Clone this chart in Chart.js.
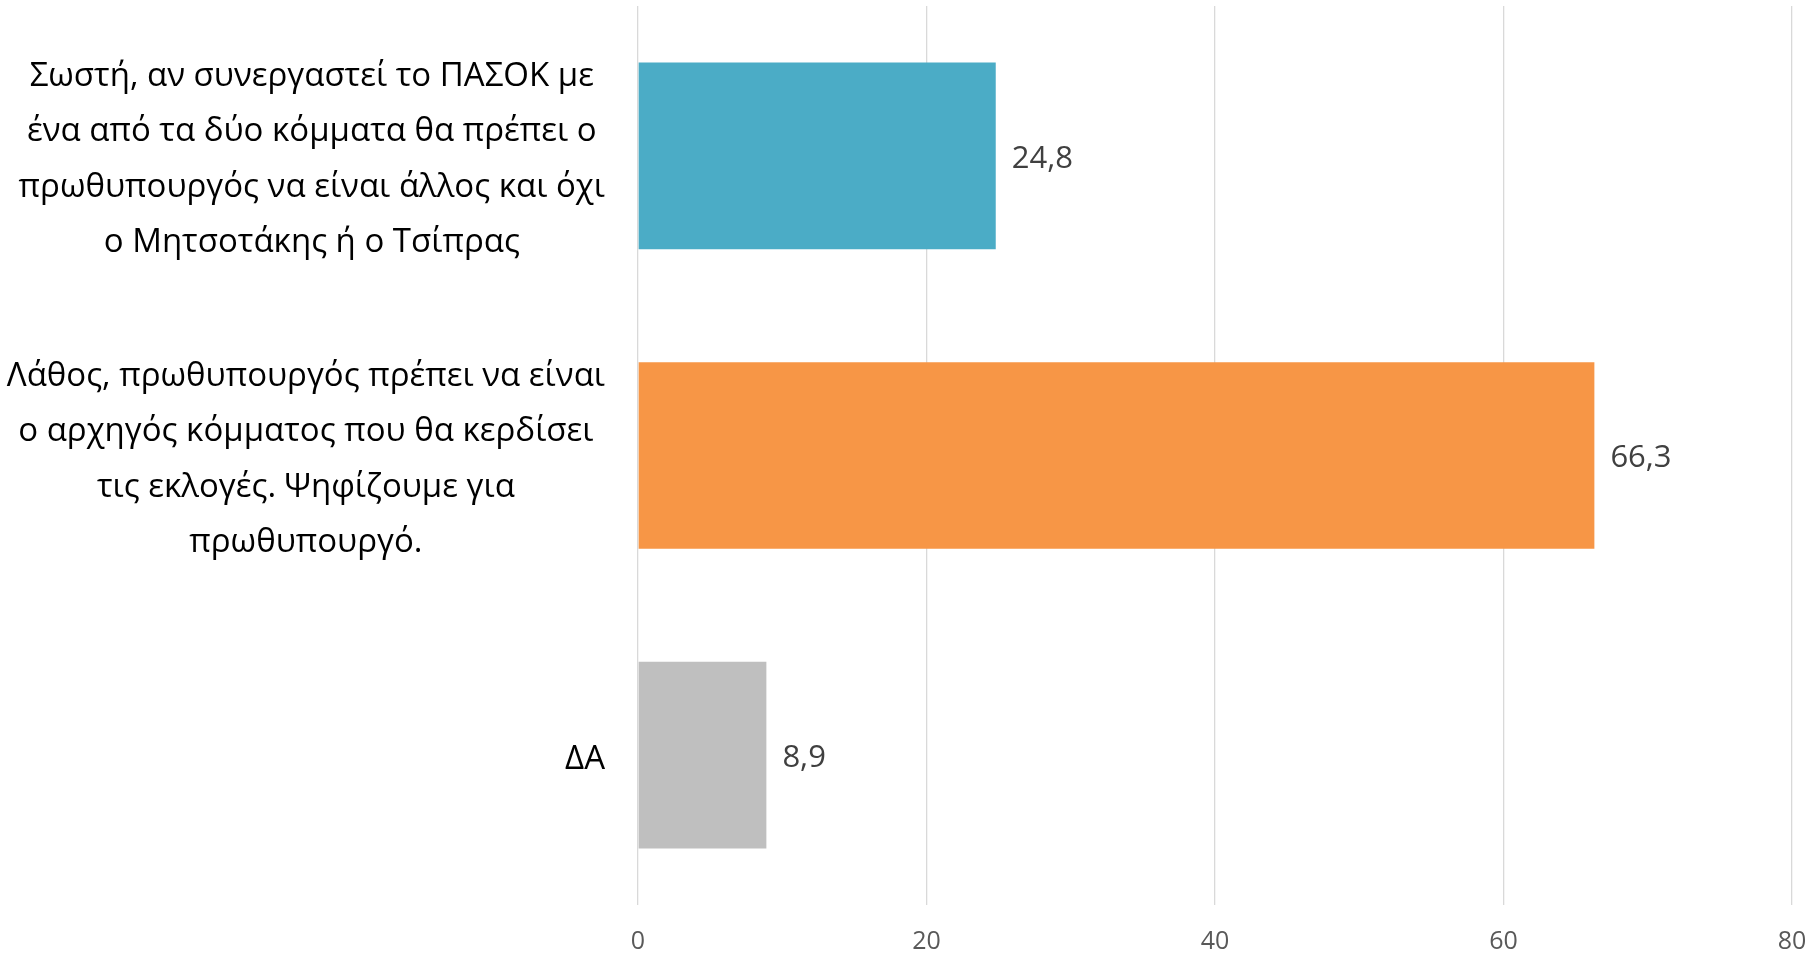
<!DOCTYPE html>
<html>
<head>
<meta charset="utf-8">
<script src="https://cdn.jsdelivr.net/npm/chart.js@4.4.1/dist/chart.umd.min.js"></script>
<style>
html,body{margin:0;padding:0;background:#fff;}
#wrap{width:1813px;height:953px;position:relative;}
</style>
</head>
<body>
<div id="wrap"><canvas id="c" width="1813" height="953"></canvas></div>
<script>
const categories = [
  ["Σωστή, αν συνεργαστεί το ΠΑΣΟΚ με", "ένα από τα δύο κόμματα θα πρέπει ο", "πρωθυπουργός να είναι άλλος και όχι", "ο Μητσοτάκης ή ο Τσίπρας"],
  ["Λάθος, πρωθυπουργός πρέπει να είναι", "ο αρχηγός κόμματος που θα κερδίσει", "τις εκλογές. Ψηφίζουμε για", "πρωθυπουργό."],
  ["ΔΑ"]
];
const values = [24.8, 66.3, 8.9];
const barColors = ["#4BACC6", "#F79646", "#BFBFBF"];
const xTicks = [0, 20, 40, 60, 80];

const FONT = "'Open Sans', 'Noto Sans', sans-serif";

const catLabelPlugin = {
  id: 'catLabels',
  afterDraw(chart) {
    const ctx = chart.ctx;
    const y = chart.scales.y;
    ctx.save();
    ctx.font = "33px " + FONT;
    ctx.fillStyle = "#000000";
    ctx.textAlign = "center";
    ctx.textBaseline = "middle";
    const rightEdge = 605;
    const lh = 55.5;
    categories.forEach((lines, i) => {
      const cy = y.getPixelForValue(i) + 4;
      let w = 0;
      lines.forEach(l => { w = Math.max(w, ctx.measureText(l).width); });
      const cx = rightEdge - w / 2;
      const n = lines.length;
      lines.forEach((l, j) => {
        ctx.fillText(l, cx, cy + (j - (n - 1) / 2) * lh);
      });
    });
    ctx.restore();
  }
};

const valueLabelPlugin = {
  id: 'valueLabels',
  afterDatasetsDraw(chart) {
    const ctx = chart.ctx;
    const meta = chart.getDatasetMeta(0);
    ctx.save();
    ctx.font = "31px " + FONT;
    ctx.fillStyle = "#404040";
    ctx.textAlign = "left";
    ctx.textBaseline = "middle";
    meta.data.forEach((bar, i) => {
      const txt = values[i].toFixed(1).replace('.', ',');
      ctx.fillText(txt, bar.x + 16, bar.y + 3);
    });
    ctx.restore();
  }
};

new Chart(document.getElementById('c'), {
  type: 'bar',
  data: {
    labels: categories.map(c => c.join(' ')),
    datasets: [{
      data: values,
      backgroundColor: barColors,
      borderWidth: 0,
      categoryPercentage: 1.0,
      barPercentage: 0.623
    }]
  },
  options: {
    indexAxis: 'y',
    responsive: false,
    animation: false,
    events: [],
    layout: { padding: { left: 638, right: 21, top: 6, bottom: 0 } },
    plugins: { legend: { display: false }, tooltip: { enabled: false } },
    scales: {
      x: {
        min: 0, max: 80,
        afterBuildTicks(scale) { scale.ticks = xTicks.map(v => ({ value: v })); },
        afterFit(scale) { scale.height = 48; scale.paddingLeft = 0; scale.paddingRight = 0; },
        grid: { color: "#D9D9D9", lineWidth: 1.3, drawTicks: false },
        border: { display: false },
        ticks: {
          color: "#595959",
          font: { family: FONT, size: 25 },
          padding: 22,
          maxRotation: 0
        }
      },
      y: {
        afterFit(scale) { scale.width = 0; },
        grid: { display: false },
        border: { display: false },
        ticks: { display: false }
      }
    }
  },
  plugins: [catLabelPlugin, valueLabelPlugin]
});
</script>
</body>
</html>
